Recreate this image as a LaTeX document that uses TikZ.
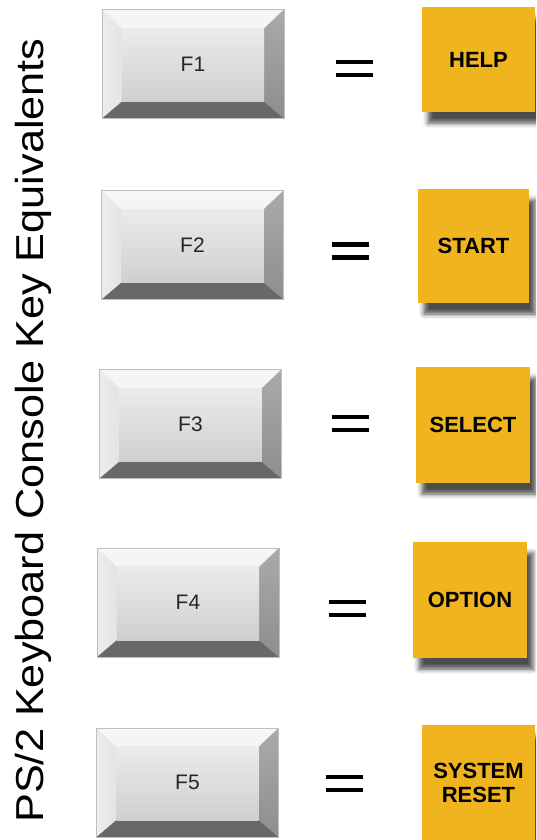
\documentclass[tikz,border=0pt]{standalone}
\usepackage{fontspec}
\setmainfont{Liberation Sans}
\usetikzlibrary{calc,shadows.blur}

\definecolor{optyellow}{RGB}{240,180,30}
\definecolor{keytop}{HTML}{F6F6F6}
\definecolor{keyleft}{HTML}{E4E4E4}
\definecolor{keyrightA}{HTML}{AAAAAA}
\definecolor{keyrightB}{HTML}{8E8E8E}
\definecolor{keybottom}{HTML}{686868}
\definecolor{keyfaceA}{HTML}{EBEBEB}
\definecolor{keyfaceB}{HTML}{CFCFCF}

\begin{document}
\begin{tikzpicture}[x=1pt,y=-1pt,
  keybase/.style={rectangle,minimum width=182,minimum height=109,inner sep=0},
  keylabel/.style={inner sep=0,text=black!85,font=\fontsize{21}{22}\selectfont},
  optbox/.style={rectangle,fill=optyellow,inner sep=0,align=center,
    font=\bfseries\fontsize{22}{24}\selectfont,
    blur shadow={shadow xshift=6pt,shadow yshift=-11pt,shadow blur radius=5pt,shadow opacity=70}},
  eqbar/.style={line width=4.5pt,black},
  titletext/.style={rotate=90,anchor=base,inner sep=0,xscale=1.11,font=\fontsize{39}{40}\selectfont}]
  \useasboundingbox (0,0) rectangle (536,840);
  \clip (0,0) rectangle (536,840);

  % title down the left side
  \node[titletext] (title) at (43,430.5) {PS/2 Keyboard Console Key Equivalents};

  % one row per key: key, equals sign, console button
  \foreach \n/\kx/\ky/\bx/\by/\bw/\bh/\ex/\ey/\lab in {
      1/193/64/478.5/59.5/113/105/354/68.5/HELP,
      2/192.5/245/473.5/246/111/114/350/251/START,
      3/190.5/424/473/425/114/116/350.5/423.5/SELECT,
      4/188/602.5/470/600/114/116/347/608.5/OPTION,
      5/187.5/782.5/478.5/783/113/116/344/783.5/{SYSTEM\\RESET}} {
    \node[keybase] (k\n) at (\kx,\ky) {};
    \path (k\n.north west) coordinate (a) (k\n.north east) coordinate (b)
          (k\n.south east) coordinate (c) (k\n.south west) coordinate (d);
    \path ($(a)+(20,19)$) coordinate (ia) ($(b)+(-20,19)$) coordinate (ib)
          ($(c)+(-20,-17)$) coordinate (ic) ($(d)+(20,-17)$) coordinate (id);
    \shade[top color=keytop,bottom color=keytop!90!keyleft] (a)--(b)--(ib)--(ia)--cycle;
    \shade[left color=keyleft!70!white,right color=keyleft] (a)--(ia)--(id)--(d)--cycle;
    \shade[top color=keyrightA,bottom color=keyrightB] (b)--(c)--(ic)--(ib)--cycle;
    \fill[keybottom] (d)--(id)--(ic)--(c)--cycle;
    \shade[top color=keyfaceA,bottom color=keyfaceB] (ia) rectangle (ic);
    \draw[black!25,line width=0.5pt] (a) rectangle (c);
    \node[keylabel] (f\n) at (k\n) {F\n};

    \coordinate (e\n) at (\ex,\ey);
    \draw[eqbar] ($(e\n)+(-18.5,-6.3)$) -- ($(e\n)+(18.5,-6.3)$);
    \draw[eqbar] ($(e\n)+(-18.5,6.3)$) -- ($(e\n)+(18.5,6.3)$);

    \node[optbox,minimum width=\bw,minimum height=\bh] (b\n) at (\bx,\by) {\lab};
  }
\end{tikzpicture}
\end{document}
